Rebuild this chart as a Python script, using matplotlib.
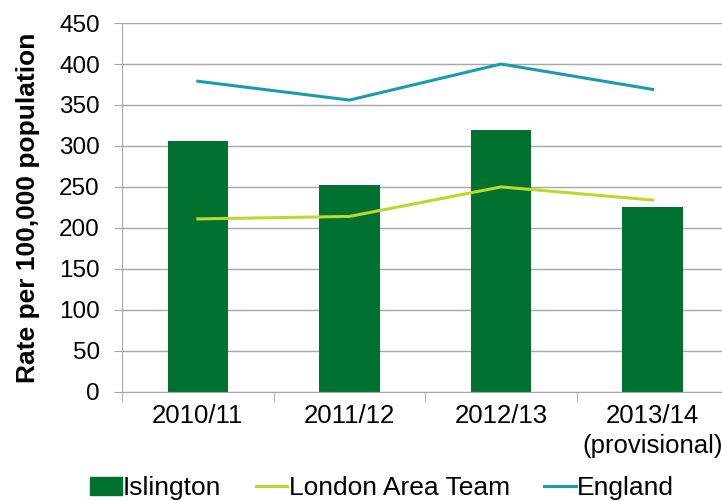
import matplotlib.pyplot as plt
from matplotlib.patches import Patch
from matplotlib.lines import Line2D

plt.rcParams['font.family'] = ['Liberation Sans', 'DejaVu Sans']

years = ['2010/11', '2011/12', '2012/13', '2013/14\n(provisional)']
islington = [306, 252, 319, 225]
london = [211, 214, 250, 234]
england = [379, 356, 400, 369]

bar_col = '#00712F'
lon_col = '#BFD62F'
eng_col = '#1A9BB0'

fig = plt.figure(figsize=(7.22, 5.01), dpi=100)
ax = fig.add_axes([0.169, 0.218, 0.84, 0.736])

x = range(len(years))
ax.bar(x, islington, width=0.4, color=bar_col, zorder=2)
ax.plot(x, london, color=lon_col, lw=2.2, zorder=3)
ax.plot(x, england, color=eng_col, lw=2.2, zorder=3)

ax.set_xlim(-0.5, 3.5)
ax.set_ylim(0, 450)
ax.set_yticks(range(0, 451, 50))
ax.set_xticks(x)
ax.set_xticklabels(years, linespacing=1.3)
ax.grid(axis='y', color='#A6A6A6', lw=1, zorder=0)
for s in ['top', 'right']:
    ax.spines[s].set_visible(False)
ax.spines['left'].set_color('#A6A6A6')
ax.spines['bottom'].set_color('#A6A6A6')
ax.tick_params(axis='y', labelsize=17.5, color='#A6A6A6', length=6, pad=10)
ax.tick_params(axis='x', labelsize=18.5, pad=9)
ax.set_ylabel('Rate per 100,000 population', fontsize=19, fontweight='bold', labelpad=14)

# category boundary ticks on x axis
ax.set_xticks([-0.5, 0.5, 1.5, 2.5, 3.5], minor=True)
ax.tick_params(axis='x', which='major', length=0)
ax.tick_params(axis='x', which='minor', length=7, color='#A6A6A6')

handles = [Patch(color=bar_col),
           Line2D([0], [0], color=lon_col, lw=2.2),
           Line2D([0], [0], color=eng_col, lw=2.2)]
fig.legend(handles, ['Islington', 'London Area Team', 'England'],
           loc='center', bbox_to_anchor=(0.529, 0.026), ncol=3, frameon=False,
           fontsize=19, handlelength=1.2, handletextpad=0.05, columnspacing=1.3)

fig.savefig('out.png')
